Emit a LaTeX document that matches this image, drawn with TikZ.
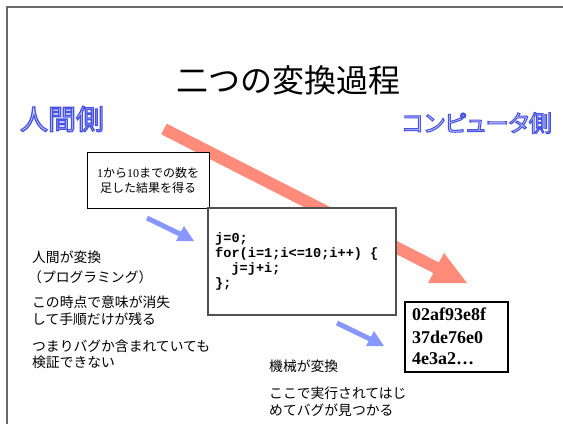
\documentclass[tikz,border=0pt]{standalone}
\usepackage{fontspec}
\setmainfont{Liberation Serif}
\newfontfamily\jp{Noto Sans CJK JP}
\newfontfamily\jpp[RawFeature=+palt]{Noto Sans CJK JP}
\newfontfamily\codefont{Liberation Mono}
\definecolor{salmon}{RGB}{255,140,122}
\definecolor{arrowblue}{RGB}{136,150,255}
\definecolor{fillblue}{RGB}{215,218,255}
\definecolor{framegray}{RGB}{105,105,105}
\definecolor{codegray}{RGB}{80,80,80}
% outlined text: pale fill, blue stroke (text render mode 2)
\newcommand{\outlinedtext}[1]{\textcolor{fillblue}{\special{pdf:literal direct 2 Tr 1.3 w 0.282 0.329 0.882 RG}#1\special{pdf:literal direct 0 Tr}}}
\tikzset{
  jline/.style={font=\jp\fontsize{13.8}{16}\selectfont, anchor=base west, inner sep=0pt},
  codeline/.style={font=\codefont\bfseries\fontsize{13.6}{15}\selectfont, anchor=base west, inner sep=0pt},
  resline/.style={font=\bfseries\fontsize{18}{22}\selectfont, anchor=base west, inner sep=0pt},
  framebox/.style={draw, fill=white, inner sep=0pt},
  side/.style={inner sep=0pt, font=\jp\fontsize{28}{32}\selectfont},
  bluearrow/.style={arrowblue, line width=5pt},
}
\begin{document}
\begin{tikzpicture}[x=1pt,y=-1pt]
\useasboundingbox (0,0) rectangle (563,424);
% slide frame
\coordinate (fbl) at (7,424);
\coordinate (ftl) at (7,6.5);
\coordinate (ftr) at (563,6.5);
\draw[framegray, line width=2pt] (fbl) -- (ftl) -- (ftr);
% title
\node[inner sep=0pt, font=\jp\fontsize{32}{36}\selectfont] (title) at (288,80) {二つの変換過程};
% side labels
\node[side] (human) at (62,119) {\outlinedtext{人間側}};
\node[side] (comp) at (477,123) {\resizebox{150pt}{!}{\outlinedtext{\jpp コンピュータ側}}};
% big salmon arrow
\coordinate (sa) at (164,129);
\coordinate (sb) at (438,268.7);
\draw[salmon, line width=12pt] (sa) -- (sb);
\coordinate (h1) at (444,253);
\coordinate (h2) at (428,283);
\coordinate (h3) at (467,283);
\fill[salmon] (h1) -- (h2) -- (h3) -- cycle;
% box 1
\node[framebox, draw=black, line width=1pt, minimum width=122pt, minimum height=56pt,
      align=center, font=\fontsize{12}{15}\selectfont] (goal) at (148,180)
  {1{\jp から}10{\jp までの数を}\\{\jp 足した結果を得る}};
% code box
\node[framebox, draw=codegray, line width=1.2pt, minimum width=188pt, minimum height=107pt] (codebox) at (302,261.5) {};
\node[codeline] (c1) at (215,242) {j=0;};
\node[codeline] (c2) at (215,257) {for(i=1;i<=10;i++) \{};
\node[codeline] (c3) at (215,272) {\phantom{xx}j=j+i;};
\node[codeline] (c4) at (215,287) {\};};
% result box
\node[framebox, draw=black, line width=1.2pt, minimum width=103pt, minimum height=70pt] (result) at (456.5,337) {};
\node[resline] (r1) at (412,320) {02af93e8f};
\node[resline] (r2) at (412,343) {37de76e0};
\node[resline] (r3) at (412,364.5) {4e3a2…};
% blue arrows
\coordinate (ba1) at (147,218);
\coordinate (bb1) at (181,234.5);
\draw[bluearrow] (ba1) -- (bb1);
\coordinate (bt1) at (184,226);
\coordinate (bl1) at (176,241);
\coordinate (bp1) at (194,241);
\fill[arrowblue] (bt1) -- (bl1) -- (bp1) -- cycle;
\coordinate (ba2) at (337,323);
\coordinate (bb2) at (371,339.5);
\draw[bluearrow] (ba2) -- (bb2);
\coordinate (bt2) at (374,331);
\coordinate (bl2) at (366,346);
\coordinate (bp2) at (384,346);
\fill[arrowblue] (bt2) -- (bl2) -- (bp2) -- cycle;
% left notes
\node[jline] (n1) at (32,262.8) {人間が変換};
\node[jline] (n2) at (28,282.8) {（プログラミング）};
\node[jline] (n3) at (32,307) {この時点で意味が消失};
\node[jline] (n4) at (32,324.5) {して手順だけが残る};
\node[jline] (n5) at (32,351.2) {つまりバグか含まれていても};
\node[jline] (n6) at (32,367.8) {検証できない};
% right notes
\node[jline] (m1) at (269,371.2) {機械が変換};
\node[jline] (m2) at (269,398.5) {ここで実行されてはじ};
\node[jline] (m3) at (269,415.3) {めてバグが見つかる};
\end{tikzpicture}
\end{document}
